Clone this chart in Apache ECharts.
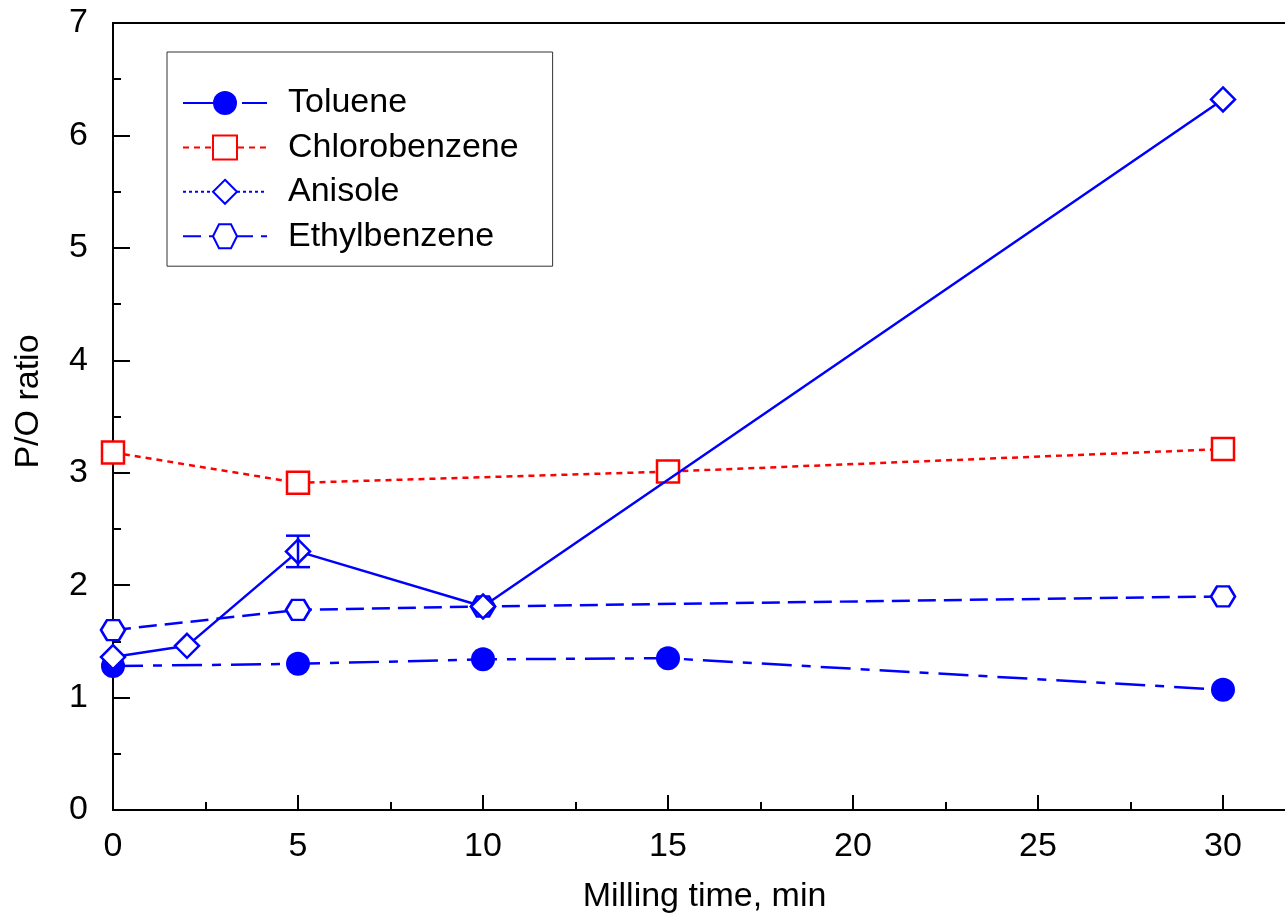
<!DOCTYPE html>
<html>
<head>
<meta charset="utf-8">
<script src="https://cdn.jsdelivr.net/npm/echarts@6/dist/echarts.min.js"></script>
<style>
  html, body { margin: 0; padding: 0; background: #fff; overflow: hidden; }
  /* 画布比窗口宽，右侧框线被裁掉，与原图一致 */
  #chart { width: 1410px; height: 920px; }
</style>
</head>
<body>
<div id="chart"></div>
<script>
// 数据
var seriesNames = ['Toluene', 'Chlorobenzene', 'Anisole', 'Ethylbenzene'];

var tolueneTime = [0, 5, 10, 15, 30];
var tolueneRatio = [1.28, 1.30, 1.34, 1.35, 1.07];

var chloroTime = [0, 5, 15, 30];
var chloroRatio = [3.18, 2.91, 3.01, 3.21];

var anisoleTime = [0, 2, 5, 10, 30];
var anisoleRatio = [1.36, 1.46, 2.30, 1.81, 6.32];

var ethylTime = [0, 5, 10, 30];
var ethylRatio = [1.60, 1.78, 1.81, 1.90];

// 误差棒 (Anisole, 5 min)
var errTime = [5];
var errLow = [2.16];
var errHigh = [2.44];

var xTicks = [0, 5, 10, 15, 20, 25, 30];

function pairs(xs, ys) {
    var out = [];
    for (var i = 0; i < xs.length; i++) out.push([xs[i], ys[i]]);
    return out;
}

var BLUE = '#0000ff';
var RED = '#ff0000';
var FONT = 'Liberation Sans, Arial, sans-serif';
var HEXAGON = 'path://M0,5 L3,0 L9,0 L12,5 L9,10 L3,10 Z';

var chart = echarts.init(document.getElementById('chart'));

var option = {
    animation: false,
    backgroundColor: '#fff',
    textStyle: { fontFamily: FONT },
    grid: {
        left: 113, top: 23, width: 1295, height: 787,
        outerBoundsMode: 'none',
        show: true, borderColor: '#000', borderWidth: 2
    },
    legend: {
        left: 167, top: 52,
        orient: 'vertical',
        backgroundColor: '#fff',
        borderColor: '#333', borderWidth: 1,
        padding: [31, 34, 10, 15],
        itemWidth: 84, itemHeight: 30, itemGap: 4.4,
        textStyle: { fontSize: 34, color: '#000', fontFamily: FONT, lineHeight: 40, padding: [0, 0, 0, 16] },
        data: [
            { name: 'Toluene' },
            { name: 'Chlorobenzene' },
            { name: 'Anisole', lineStyle: { type: [3, 3] } },
            { name: 'Ethylbenzene' }
        ]
    },
    xAxis: {
        type: 'value', min: 0, max: 35, interval: 5,
        name: 'Milling time, min', nameLocation: 'middle', nameGap: 70,
        nameTextStyle: { fontSize: 34, color: '#000', fontFamily: FONT, padding: [0, 112, 0, 0] },
        axisLine: { lineStyle: { color: '#000', width: 2 } },
        axisTick: { inside: true, length: 15, lineStyle: { color: '#000', width: 2 } },
        minorTick: { show: true, splitNumber: 2, length: 8, lineStyle: { color: '#000', width: 2 } },
        axisLabel: { fontSize: 34, color: '#000', margin: 20, fontFamily: FONT,
            formatter: function (v) { return xTicks.indexOf(v) >= 0 ? String(v) : ''; } },
        splitLine: { show: false }
    },
    yAxis: {
        type: 'value', min: 0, max: 7, interval: 1,
        name: 'P/O ratio', nameLocation: 'middle', nameGap: 67,
        nameTextStyle: { fontSize: 34, color: '#000', fontFamily: FONT, padding: [0, 0, 0, 30] },
        axisLine: { show: true, lineStyle: { color: '#000', width: 2 } },
        axisTick: { inside: true, length: 17, lineStyle: { color: '#000', width: 2 } },
        minorTick: { show: true, splitNumber: 2, length: 8, lineStyle: { color: '#000', width: 2 } },
        axisLabel: { fontSize: 34, color: '#000', margin: 25, fontFamily: FONT },
        splitLine: { show: false }
    },
    series: [
        {
            name: 'Toluene', type: 'line',
            data: pairs(tolueneTime, tolueneRatio),
            symbol: 'circle', symbolSize: 24,
            itemStyle: { color: BLUE },
            lineStyle: { color: BLUE, width: 2.5, type: [30, 10, 9, 10] },
            z: 3
        },
        {
            name: 'Chlorobenzene', type: 'line',
            data: pairs(chloroTime, chloroRatio),
            symbol: 'rect', symbolSize: 22,
            itemStyle: { color: '#fff', borderColor: RED, borderWidth: 2.5 },
            lineStyle: { color: RED, width: 2.5, type: [6, 5] },
            z: 3
        },
        {
            name: 'Anisole', type: 'line',
            data: pairs(anisoleTime, anisoleRatio),
            symbol: 'diamond', symbolSize: 24,
            itemStyle: { color: '#fff', borderColor: BLUE, borderWidth: 2.5 },
            lineStyle: { color: BLUE, width: 2.5, type: 'solid' },
            z: 4
        },
        {
            name: 'Ethylbenzene', type: 'line',
            data: pairs(ethylTime, ethylRatio),
            symbol: HEXAGON, symbolSize: [24, 20],
            itemStyle: { color: '#fff', borderColor: BLUE, borderWidth: 2.5 },
            lineStyle: { color: BLUE, width: 2.5, type: [18, 8] },
            z: 3
        },
        {
            name: 'errorbar', type: 'custom',
            data: errTime.map(function (t, i) { return [t, errLow[i], errHigh[i]]; }),
            z: 5,
            renderItem: function (params, api) {
                var lo = api.coord([api.value(0), api.value(1)]);
                var hi = api.coord([api.value(0), api.value(2)]);
                var half = 12;
                var style = { stroke: BLUE, lineWidth: 2.5 };
                return {
                    type: 'group',
                    children: [
                        { type: 'line', shape: { x1: lo[0], y1: lo[1], x2: hi[0], y2: hi[1] }, style: style },
                        { type: 'line', shape: { x1: lo[0] - half, y1: lo[1], x2: lo[0] + half, y2: lo[1] }, style: style },
                        { type: 'line', shape: { x1: hi[0] - half, y1: hi[1], x2: hi[0] + half, y2: hi[1] }, style: style }
                    ]
                };
            }
        }
    ]
};

chart.setOption(option);
</script>
</body>
</html>
